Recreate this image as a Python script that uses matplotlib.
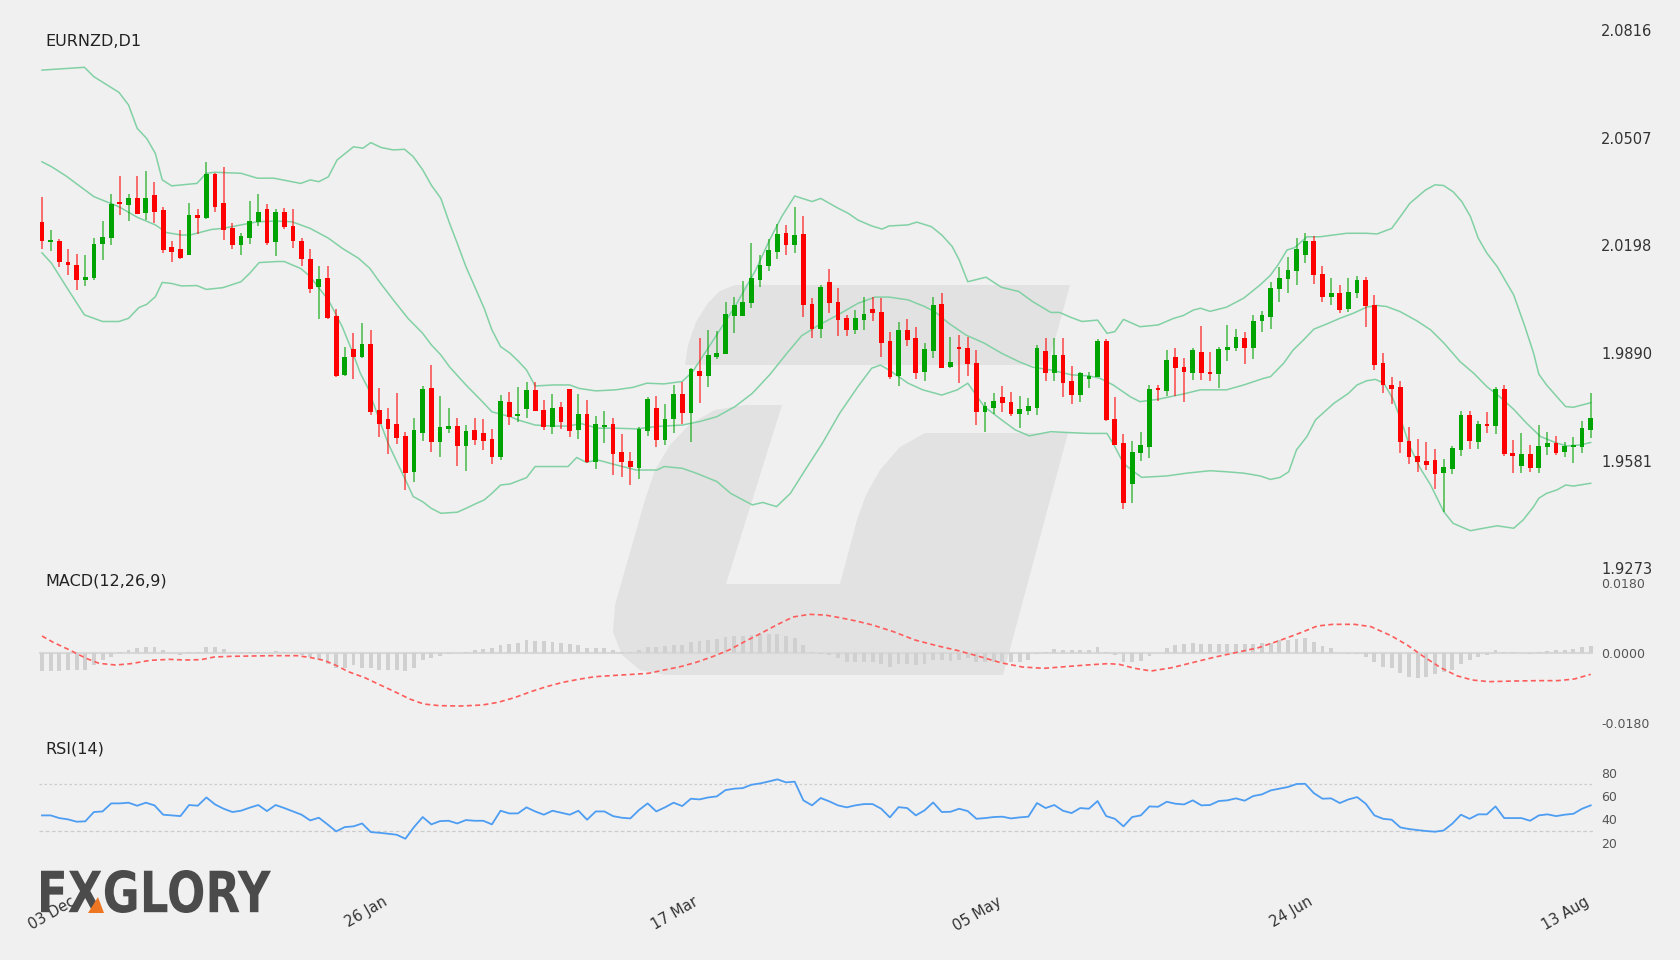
import numpy as np
import matplotlib
matplotlib.use('Agg')
import matplotlib.pyplot as plt
from matplotlib.patches import Polygon, PathPatch
from matplotlib.textpath import TextPath
from matplotlib.font_manager import FontProperties
from matplotlib.transforms import Affine2D, IdentityTransform, ScaledTranslation

#datos OHLC diarios EURNZD
opens = [2.0265,2.0207,2.0211,2.0150,2.0143,2.0099,2.0105,2.0202,2.0220,2.0323,
         2.0314,2.0334,2.0290,2.0343,2.0299,2.0194,2.0187,2.0171,2.0286,2.0276,
         2.0403,2.0320,2.0249,2.0199,2.0220,2.0264,2.0302,2.0207,2.0293,2.0254,
         2.0212,2.0159,2.0079,2.0106,1.9996,1.9827,1.9900,1.9879,1.9916,1.9725,
         1.9700,1.9687,1.9652,1.9549,1.9661,1.9789,1.9634,1.9673,1.9680,1.9623,
         1.9668,1.9661,1.9642,1.9591,1.9750,1.9709,1.9729,1.9783,1.9727,1.9678,
         1.9734,1.9787,1.9669,1.9716,1.9578,1.9678,1.9686,1.9607,1.9581,1.9561,
         1.9667,1.9731,1.9639,1.9699,1.9771,1.9717,1.9837,1.9825,1.9879,1.9887,
         1.9996,1.9997,2.0034,2.0100,2.0139,2.0180,2.0235,2.0200,2.0231,2.0030,
         1.9959,2.0092,2.0036,1.9991,1.9956,1.9984,2.0015,2.0007,1.9924,1.9823,
         1.9955,1.9932,1.9834,1.9894,2.0031,1.9849,1.9907,1.9904,1.9860,1.9721,
         1.9733,1.9762,1.9750,1.9715,1.9724,1.9733,1.9895,1.9833,1.9883,1.9809,
         1.9770,1.9816,1.9820,1.9924,1.9699,1.9632,1.9513,1.9602,1.9621,1.9789,
         1.9782,1.9878,1.9849,1.9833,1.9893,1.9835,1.9829,1.9898,1.9905,1.9932,
         1.9905,1.9982,1.9994,2.0074,2.0102,2.0125,2.0172,2.0211,2.0116,2.0051,
         2.0063,2.0015,2.0061,2.0099,2.0027,1.9860,1.9797,1.9791,1.9636,1.9594,
         1.9581,1.9583,1.9545,1.9558,1.9611,1.9711,1.9634,1.9686,1.9680,1.9786,
         1.9603,1.9566,1.9599,1.9559,1.9619,1.9631,1.9605,1.9621,1.9621,1.9669]
highs = [2.0337,2.0243,2.0217,2.0187,2.0173,2.0170,2.0219,2.0268,2.0346,2.0398,
         2.0346,2.0396,2.0412,2.0380,2.0309,2.0210,2.0243,2.0320,2.0302,2.0437,
         2.0405,2.0423,2.0263,2.0235,2.0327,2.0346,2.0316,2.0302,2.0306,2.0304,
         2.0219,2.0187,2.0139,2.0139,2.0015,1.9908,1.9946,1.9976,1.9956,1.9788,
         1.9732,1.9776,1.9663,1.9702,1.9795,1.9854,1.9765,1.9732,1.9702,1.9682,
         1.9702,1.9700,1.9671,1.9769,1.9778,1.9792,1.9806,1.9806,1.9755,1.9773,
         1.9748,1.9787,1.9773,1.9755,1.9709,1.9723,1.9704,1.9657,1.9606,1.9676,
         1.9762,1.9767,1.9743,1.9797,1.9807,1.9846,1.9932,1.9957,1.9954,2.0035,
         2.0051,2.0097,2.0206,2.0172,2.0217,2.0261,2.0256,2.0308,2.0283,2.0046,
         2.0085,2.0131,2.0076,1.9999,2.0013,2.0051,2.0051,2.0046,1.9950,1.9979,
         1.9986,1.9964,1.9917,2.0049,2.0061,1.9935,1.9941,1.9935,1.9898,1.9750,
         1.9775,1.9794,1.9778,1.9766,1.9760,1.9912,1.9932,1.9932,1.9934,1.9851,
         1.9835,1.9835,1.9929,1.9929,1.9763,1.9656,1.9637,1.9663,1.9798,1.9798,
         1.9898,1.9904,1.9875,1.9903,1.9966,1.9893,1.9907,1.9970,1.9958,1.9950,
         1.9999,2.0010,2.0093,2.0135,2.0166,2.0219,2.0233,2.0226,2.0140,2.0106,
         2.0084,2.0106,2.0110,2.0108,2.0056,1.9890,1.9820,1.9809,1.9677,1.9643,
         1.9634,1.9615,1.9586,1.9623,1.9724,1.9723,1.9695,1.9719,1.9792,1.9797,
         1.9640,1.9661,1.9626,1.9683,1.9662,1.9651,1.9635,1.9649,1.9696,1.9774]
lows = [2.0189,2.0183,2.0135,2.0112,2.0070,2.0083,2.0099,2.0155,2.0199,2.0286,
        2.0268,2.0288,2.0272,2.0263,2.0176,2.0152,2.0160,2.0171,2.0230,2.0275,
        2.0293,2.0215,2.0189,2.0171,2.0201,2.0255,2.0198,2.0168,2.0245,2.0192,
        2.0140,2.0063,1.9987,1.9986,1.9822,1.9825,1.9814,1.9874,1.9713,1.9648,
        1.9600,1.9629,1.9497,1.9519,1.9638,1.9607,1.9591,1.9659,1.9565,1.9552,
        1.9627,1.9611,1.9570,1.9583,1.9682,1.9693,1.9704,1.9722,1.9669,1.9656,
        1.9671,1.9650,1.9644,1.9574,1.9556,1.9632,1.9540,1.9535,1.9511,1.9527,
        1.9653,1.9621,1.9625,1.9659,1.9687,1.9634,1.9747,1.9793,1.9871,1.9887,
        1.9948,1.9997,2.0020,2.0079,2.0126,2.0159,2.0172,2.0177,1.9994,1.9932,
        1.9934,2.0003,1.9937,1.9937,1.9943,1.9955,1.9982,1.9877,1.9814,1.9795,
        1.9911,1.9815,1.9810,1.9874,1.9846,1.9848,1.9803,1.9825,1.9683,1.9662,
        1.9714,1.9721,1.9709,1.9675,1.9712,1.9712,1.9810,1.9810,1.9764,1.9744,
        1.9748,1.9790,1.9820,1.9695,1.9626,1.9441,1.9458,1.9580,1.9589,1.9752,
        1.9767,1.9767,1.9748,1.9813,1.9813,1.9810,1.9790,1.9868,1.9895,1.9858,
        1.9872,1.9951,1.9959,2.0035,2.0061,2.0084,2.0149,2.0088,2.0036,2.0026,
        2.0003,2.0007,2.0048,1.9964,1.9841,1.9776,1.9742,1.9602,1.9571,1.9547,
        1.9554,1.9500,1.9434,1.9543,1.9594,1.9615,1.9613,1.9661,1.9656,1.9595,
        1.9545,1.9546,1.9549,1.9545,1.9597,1.9598,1.9592,1.9575,1.9604,1.9647]
closes = [2.0211,2.0214,2.0151,2.0142,2.0099,2.0109,2.0203,2.0222,2.0317,2.0316,
          2.0334,2.0289,2.0334,2.0295,2.0185,2.0178,2.0161,2.0286,2.0276,2.0403,
          2.0307,2.0243,2.0199,2.0226,2.0269,2.0295,2.0206,2.0293,2.0252,2.0211,
          2.0159,2.0073,2.0102,1.9989,1.9824,1.9879,1.9879,1.9916,1.9719,1.9687,
          1.9673,1.9645,1.9545,1.9668,1.9787,1.9633,1.9676,1.9680,1.9623,1.9666,
          1.9641,1.9638,1.9591,1.9751,1.9706,1.9715,1.9783,1.9724,1.9677,1.9731,
          1.9693,1.9666,1.9716,1.9576,1.9686,1.9683,1.9600,1.9577,1.9564,1.9672,
          1.9759,1.9639,1.9701,1.9771,1.9717,1.9844,1.9825,1.9883,1.9891,2.0002,
          2.0026,2.0037,2.0104,2.0142,2.0184,2.0230,2.0198,2.0228,2.0026,1.9959,
          2.0078,2.0034,1.9983,1.9956,1.9991,2.0001,2.0003,1.9919,1.9822,1.9955,
          1.9926,1.9831,1.9900,2.0028,1.9848,1.9863,1.9900,1.9859,1.9721,1.9739,
          1.9752,1.9747,1.9715,1.9729,1.9737,1.9904,1.9833,1.9883,1.9805,1.9769,
          1.9831,1.9825,1.9924,1.9697,1.9626,1.9459,1.9606,1.9626,1.9786,1.9784,
          1.9870,1.9846,1.9836,1.9899,1.9833,1.9829,1.9902,1.9907,1.9935,1.9905,
          1.9981,1.9999,2.0075,2.0106,2.0129,2.0187,2.0211,2.0114,2.0051,2.0062,
          2.0012,2.0065,2.0099,2.0023,1.9854,1.9798,1.9787,1.9634,1.9591,1.9577,
          1.9567,1.9543,1.9562,1.9618,1.9711,1.9636,1.9686,1.9681,1.9786,1.9599,
          1.9595,1.9599,1.9559,1.9622,1.9631,1.9603,1.9623,1.9626,1.9674,1.9702]

#bandas de Bollinger (posicion en barras, valor)
bb_up_x = [0,4.9,6.0,8.9,10.0,11.0,12.1,13.1,13.9,15.0,17.9,19.0,20.0,23.0,24.9,26.8,29.9,31.0,32.0,33.1,
           34.1,36.0,37.1,38.0,39.2,40.6,41.9,42.9,44.0,45.0,46.1,47.1,48.0,49.0,50.1,51.1,52.0,53.0,54.1,55.1,
           56.0,57.0,59.1,61.0,62.1,64.0,66.3,68.3,69.9,71.9,74.0,75.2,77.6,80.1,82.5,84.1,85.5,87.0,89.0,90.0,
           92.0,93.2,94.3,95.9,97.1,97.9,100.1,101.1,102.8,104.0,105.2,106.0,107.0,109.1,110.9,112.9,114.5,116.6,117.6,119.0,
           120.2,122.0,123.1,124.0,125.0,126.9,129.0,130.8,131.9,133.1,133.9,135.0,136.9,138.9,140.8,142.0,142.9,143.9,144.8,146.2,
           147.7,150.8,153.1,154.3,156.0,157.0,158.1,159.9,161.0,162.0,163.1,164.1,165.1,166.0,167.0,168.2,170.1,171.4,172.4,173.0,
           173.9,175.1,176.1,177.0,179.0]
bb_up = [2.0701,2.0709,2.0682,2.0637,2.0601,2.0534,2.0505,2.0462,2.0386,2.0369,2.0376,2.0405,2.0408,2.0405,2.0391,2.0391,2.0376,2.0386,2.0381,2.0395,
         2.0443,2.0481,2.0477,2.0493,2.0479,2.0472,2.0474,2.0453,2.0415,2.0371,2.0333,2.0262,2.0204,2.0137,2.0075,2.0018,1.9956,1.9908,1.9889,1.9865,
         1.9841,1.9795,1.9798,1.9798,1.9788,1.9781,1.9784,1.9791,1.9803,1.9801,1.9808,1.9836,1.9927,2.0023,2.0128,2.0214,2.0281,2.0340,2.0324,2.0333,
         2.0305,2.0290,2.0271,2.0254,2.0245,2.0254,2.0257,2.0265,2.0252,2.0228,2.0195,2.0157,2.0094,2.0107,2.0078,2.0066,2.0037,2.0006,2.0006,1.9991,
         1.9980,1.9984,1.9946,1.9951,1.9986,1.9965,1.9970,1.9989,1.9997,2.0013,2.0018,2.0009,2.0021,2.0047,2.0085,2.0113,2.0144,2.0185,2.0192,2.0223,
         2.0223,2.0233,2.0233,2.0231,2.0247,2.0281,2.0319,2.0357,2.0372,2.0370,2.0352,2.0324,2.0281,2.0219,2.0176,2.0137,2.0056,1.9965,1.9889,1.9829,
         1.9798,1.9764,1.9736,1.9734,1.9747]
bb_mid_x = [0,1.1,2.8,6.0,7.9,8.9,11.0,13.1,14.4,16.1,17.1,19.6,20.9,23.0,24.9,27.0,28.9,31.0,33.1,34.7,
            36.6,37.9,39.0,40.6,42.3,44.0,45.0,46.1,47.1,49.0,50.9,52.0,54.1,55.1,57.0,59.1,61.0,62.2,64.2,66.3,
            68.7,71.1,74.0,76.0,78.0,80.1,82.1,84.1,86.1,87.8,89.8,92.0,94.3,96.3,97.9,100.1,102.0,103.2,104.8,106.8,
            108.9,110.9,112.9,114.5,116.6,119.0,121.0,122.3,123.8,125.8,126.9,129.0,131.9,133.9,136.9,138.9,141.2,142.0,143.5,144.6,
            145.8,147.0,148.5,150.0,151.6,153.1,154.3,155.4,157.0,158.9,160.5,162.0,163.9,165.5,167.0,168.5,170.1,171.6,173.2,175.1,
            176.3,177.8,179.0]
bb_mid = [2.0438,2.0424,2.0397,2.0338,2.0319,2.0309,2.0279,2.0257,2.0235,2.0228,2.0228,2.0244,2.0247,2.0257,2.0266,2.0268,2.0266,2.0247,2.0219,2.0190,
          2.0161,2.0132,2.0094,2.0042,1.9989,1.9946,1.9913,1.9884,1.9850,1.9798,1.9750,1.9721,1.9707,1.9697,1.9683,1.9680,1.9680,1.9688,1.9674,1.9674,
          1.9672,1.9679,1.9683,1.9693,1.9707,1.9736,1.9774,1.9827,1.9889,1.9939,1.9970,1.9999,2.0032,2.0050,2.0050,2.0042,2.0023,2.0008,1.9975,1.9941,
          1.9918,1.9889,1.9865,1.9849,1.9841,1.9827,1.9824,1.9817,1.9798,1.9764,1.9750,1.9757,1.9772,1.9784,1.9784,1.9798,1.9817,1.9822,1.9860,1.9898,
          1.9927,1.9958,1.9973,1.9989,2.0004,2.0021,2.0026,2.0023,2.0008,1.9982,1.9956,1.9919,1.9865,1.9831,1.9793,1.9764,1.9728,1.9688,1.9650,1.9631,
          1.9623,1.9626,1.9633]
bb_low_x = [0,1.1,2.8,4.9,7.0,8.9,10.0,11.2,12.1,13.1,13.9,15.0,16.1,17.9,19.0,20.9,23.0,24.0,25.1,27.2,
            28.0,29.9,31.0,32.2,33.1,34.7,35.8,36.8,37.7,39.0,40.0,41.1,42.1,42.9,44.0,45.0,46.1,48.0,49.0,50.1,
            51.1,52.0,53.0,54.1,56.0,57.0,60.8,61.8,62.9,64.2,66.3,68.7,71.1,71.9,74.0,75.6,78.0,79.6,82.1,83.3,
            84.9,86.5,88.2,90.2,92.2,94.3,95.9,96.9,97.9,100.1,101.8,104.0,105.8,107.0,108.9,110.9,112.5,114.1,116.6,119.0,
            121.0,123.1,124.0,125.0,126.2,127.1,130.0,132.3,135.0,136.9,138.9,140.8,142.0,143.1,144.1,145.0,146.2,147.2,149.3,151.0,
            152.0,153.1,154.1,155.1,156.2,157.2,158.1,159.3,160.5,162.0,163.1,165.1,166.6,168.2,170.1,171.2,172.4,173.0,173.9,175.1,
            176.1,177.0,179.0]
bb_low = [2.0177,2.0147,2.0080,1.9999,1.9980,1.9980,1.9989,2.0020,2.0029,2.0051,2.0092,2.0089,2.0082,2.0083,2.0072,2.0077,2.0094,2.0118,2.0149,2.0152,
          2.0152,2.0132,2.0109,2.0070,2.0042,1.9965,1.9898,1.9831,1.9788,1.9697,1.9631,1.9573,1.9521,1.9478,1.9463,1.9444,1.9430,1.9433,1.9444,1.9457,
          1.9468,1.9487,1.9511,1.9514,1.9532,1.9564,1.9564,1.9590,1.9576,1.9583,1.9569,1.9554,1.9554,1.9564,1.9559,1.9545,1.9521,1.9487,1.9454,1.9461,
          1.9449,1.9487,1.9554,1.9631,1.9717,1.9793,1.9846,1.9855,1.9841,1.9803,1.9784,1.9769,1.9784,1.9803,1.9736,1.9698,1.9669,1.9652,1.9664,1.9661,
          1.9659,1.9659,1.9621,1.9573,1.9549,1.9533,1.9537,1.9545,1.9552,1.9549,1.9545,1.9537,1.9527,1.9533,1.9549,1.9612,1.9650,1.9698,1.9745,1.9774,
          1.9798,1.9810,1.9814,1.9803,1.9755,1.9688,1.9621,1.9559,1.9511,1.9435,1.9401,1.9380,1.9387,1.9394,1.9387,1.9411,1.9449,1.9473,1.9487,1.9497,
          1.9511,1.9508,1.9516]

#MACD: histograma por barra y linea de senal
macd_hist = [-0.0046,-0.0046,-0.0045,-0.0044,-0.0044,-0.0043,-0.0031,-0.0018,-0.0009,0.0003,
             0.0008,0.0012,0.0015,0.0015,0.0007,0.0000,-0.0004,0.0003,0.0003,0.0015,
             0.0015,0.0010,0.0003,0.0002,0.0003,0.0003,0.0000,0.0004,0.0003,0.0000,
             -0.0005,-0.0010,-0.0018,-0.0029,-0.0039,-0.0039,-0.0031,-0.0038,-0.0039,-0.0043,
             -0.0043,-0.0043,-0.0046,-0.0038,-0.0018,-0.0012,-0.0008,-0.0003,0.0000,0.0003,
             0.0008,0.0010,0.0012,0.0021,0.0022,0.0027,0.0033,0.0032,0.0031,0.0029,
             0.0025,0.0022,0.0021,0.0014,0.0014,0.0014,0.0008,0.0002,0.0003,0.0007,
             0.0015,0.0015,0.0018,0.0021,0.0021,0.0029,0.0031,0.0033,0.0036,0.0042,
             0.0045,0.0045,0.0046,0.0048,0.0048,0.0048,0.0045,0.0039,0.0021,0.0003,
             -0.0002,-0.0005,-0.0014,-0.0022,-0.0022,-0.0022,-0.0022,-0.0027,-0.0035,-0.0029,
             -0.0027,-0.0031,-0.0029,-0.0018,-0.0018,-0.0021,-0.0018,-0.0014,-0.0024,-0.0024,
             -0.0024,-0.0024,-0.0024,-0.0022,-0.0018,-0.0003,0.0003,0.0010,0.0008,0.0008,
             0.0008,0.0009,0.0015,0.0003,-0.0005,-0.0024,-0.0024,-0.0021,-0.0007,0.0000,
             0.0014,0.0021,0.0023,0.0027,0.0024,0.0024,0.0023,0.0023,0.0024,0.0024,
             0.0024,0.0025,0.0027,0.0033,0.0033,0.0036,0.0038,0.0029,0.0019,0.0012,
             0.0000,-0.0002,-0.0002,-0.0009,-0.0024,-0.0035,-0.0039,-0.0052,-0.0061,-0.0063,
             -0.0061,-0.0055,-0.0050,-0.0044,-0.0027,-0.0018,-0.0009,-0.0005,0.0009,0.0003,
             0.0002,0.0000,-0.0002,0.0002,0.0006,0.0007,0.0008,0.0010,0.0015,0.0019]
signal_x = [0,1.3,3.2,5.1,6.6,8.5,10.3,12.5,14.7,16.5,18.4,19.9,21.8,24.3,26.7,29.5,31.1,32.6,33.9,35.4,
            37.3,39.1,41.0,42.5,44.1,45.9,48.4,50.9,52.7,54.6,56.5,58.3,60.2,62.0,63.9,65.7,68.2,70.1,71.9,73.8,
            75.6,77.5,79.4,81.2,83.1,84.9,86.8,88.7,90.5,92.2,94.1,96.0,98.4,100.9,103.4,105.9,108.4,110.8,113.3,115.8,
            118.3,120.7,123.2,124.5,126.3,128.2,130.6,133.1,135.6,138.1,140.6,143.0,145.5,147.4,149.2,151.7,153.6,156.0,157.9,159.7,
            161.6,163.5,165.3,167.2,170.3,172.8,175.2,177.1,179.0]
signal = [0.00437,0.00274,0.00077,-0.00137,-0.00266,-0.00309,-0.00274,-0.00189,-0.00163,-0.00180,-0.00171,-0.00103,-0.00086,-0.00077,-0.00069,-0.00069,-0.00120,-0.00189,-0.00309,-0.00480,
          -0.00634,-0.00823,-0.01020,-0.01183,-0.01311,-0.01354,-0.01363,-0.01337,-0.01269,-0.01149,-0.00994,-0.00866,-0.00754,-0.00677,-0.00609,-0.00583,-0.00549,-0.00523,-0.00437,-0.00351,
          -0.00240,-0.00094,0.00077,0.00291,0.00506,0.00720,0.00926,0.00994,0.00977,0.00909,0.00823,0.00720,0.00549,0.00334,0.00189,0.00060,-0.00094,-0.00249,-0.00360,-0.00394,
          -0.00351,-0.00309,-0.00274,-0.00291,-0.00394,-0.00463,-0.00377,-0.00240,-0.00103,0.00017,0.00137,0.00317,0.00523,0.00694,0.00737,0.00737,0.00677,0.00437,0.00189,-0.00094,
          -0.00369,-0.00583,-0.00694,-0.00737,-0.00720,-0.00711,-0.00711,-0.00669,-0.00549]

#RSI(14) por barra
rsi = [43.4,43.4,41.1,40.0,38.0,38.3,46.3,46.8,53.7,53.7,54.3,51.7,54.3,52.0,44.0,43.4,42.8,52.3,51.7,58.8,
       52.8,49.1,46.3,47.4,50.0,52.3,47.1,52.3,49.7,46.8,44.0,39.1,41.4,35.7,29.7,33.4,34.0,36.5,29.1,28.5,
       27.7,26.8,23.4,33.4,42.0,35.7,38.5,38.8,36.5,39.4,38.8,38.8,35.7,47.4,45.1,45.1,50.3,46.8,44.0,47.4,
       45.7,44.0,47.4,39.7,46.8,46.8,42.8,41.4,40.8,48.0,53.7,46.8,50.3,54.3,51.4,57.7,57.1,58.8,59.7,65.1,
       66.3,66.8,69.7,70.8,72.5,74.3,71.7,72.3,56.3,52.0,58.3,55.4,52.0,50.3,52.0,53.1,53.1,49.1,41.7,50.5,
       49.7,43.4,47.7,54.5,46.3,46.5,49.1,47.1,40.5,41.1,42.0,42.3,40.8,41.7,42.3,54.0,49.7,52.3,47.4,45.4,
       49.7,49.1,55.7,42.8,40.5,34.0,42.0,43.4,51.1,50.8,55.1,53.4,52.8,56.3,52.0,52.3,55.7,56.3,58.0,56.0,
       60.0,61.4,64.8,66.3,67.7,70.3,70.5,62.5,57.7,58.0,54.0,57.1,59.1,53.4,43.4,40.5,39.7,33.1,31.7,30.8,
       30.0,29.4,30.5,36.3,44.0,40.5,44.3,44.3,51.1,41.1,41.1,41.1,38.8,43.4,44.3,42.8,44.0,44.8,49.1,52.0]

price_ticks = [2.0816, 2.0507, 2.0198, 1.9890, 1.9581, 1.9273]
macd_ticks = [0.018, 0.0, -0.018]
rsi_ticks = [80, 60, 40, 20]
date_idx = [4, 40, 76, 111, 147, 179]
date_labels = ['03 Dec', '26 Jan', '17 Mar', '05 May', '24 Jun', '13 Aug']

#%% figura
BG = '#f0f0f0'
W, H = 1680, 960
fig = plt.figure(figsize=(W/100, H/100), dpi=100, facecolor=BG)

#marca de agua (en pixeles)
def px(pts):
    return [(x, H - y) for x, y in pts]
wm = '#e2e2e2'
top_bar = px([(735,285),(1070,285),(1048,365),(685,365),(688,345),(696,322),(708,303),(720,291)])
low_piece = px([(745,405),(782,405),(726,584),(840,584),(857,520),(866,495),(880,470),(900,447),(925,433),
                (1068,433),(1003,675),(665,675),(640,670),(622,655),(613,632),(615,605),(645,500),
                (655,470),(670,445),(690,424),(715,410)])
for pts in (top_bar, low_piece):
    fig.add_artist(Polygon(pts, closed=True, facecolor=wm, edgecolor='none',
                           transform=IdentityTransform(), zorder=-5))

x_left, x_right = 39.4, 1593.3
def axes_px(top, bottom):
    return fig.add_axes([x_left/W, 1 - bottom/H, (x_right - x_left)/W, (bottom - top)/H])

ax = axes_px(30, 568)
ax_m = axes_px(583, 723)
ax_r = axes_px(772.7, 842.7)

x = np.arange(len(closes))
o = np.array(opens); c = np.array(closes); h = np.array(highs); l = np.array(lows)
up = c >= o
cols = np.where(up, '#00a400', '#ff0000')

#velas
ax.vlines(x, l, h, colors=cols, lw=1.3, alpha=0.6, zorder=3)
body = np.maximum(np.abs(c - o), 0.00035)
ax.bar(x, body, bottom=np.minimum(o, c), width=0.55, color=cols, zorder=4)

#bollinger
for bx, by in ((bb_up_x, bb_up), (bb_mid_x, bb_mid), (bb_low_x, bb_low)):
    ax.plot(bx, by, color='#82d1a4', lw=1.1, zorder=2)

ax.set_ylim(1.9273, 2.0816)
ax.set_yticks(price_ticks, ['%.4f' % v for v in price_ticks])

#macd
ax_m.axhline(0, color='#d8d8d8', lw=1.5, zorder=1)
ax_m.bar(x, macd_hist, width=0.45, color='#d0d0d0', zorder=2)
ax_m.plot(signal_x, signal, color='#ff5c5c', lw=1.2, dashes=(3, 2), zorder=3)
ax_m.set_ylim(-0.018, 0.018)
ax_m.set_yticks(macd_ticks, ['0.0180', '0.0000', '-0.0180'])

#rsi
ax_r.axhline(70, color='#cccccc', lw=0.9, ls=(0, (2, 2)))
ax_r.axhline(30, color='#cccccc', lw=0.9, ls=(0, (3, 2)))
ax_r.plot(x, rsi, color='#4d9df2', lw=1.3, clip_on=False)
ax_r.set_ylim(20, 80)
ax_r.set_yticks(rsi_ticks, [str(v) for v in rsi_ticks])

for a, fs, tc in ((ax, 10.5, '#333333'), (ax_m, 9, '#555555'), (ax_r, 9, '#555555')):
    a.set_xlim(-0.3, len(closes) - 0.7)
    a.set_facecolor('none')
    for s in a.spines.values():
        s.set_visible(False)
    a.yaxis.tick_right()
    a.tick_params(axis='y', length=0, pad=5.5, labelsize=fs, labelcolor=tc)
    a.tick_params(axis='x', length=0)
    if a is not ax_r:
        a.set_xticks([])

ax_r.set_xticks(date_idx, date_labels, rotation=30, ha='right', rotation_mode='anchor')
ax_r.tick_params(axis='x', pad=37, labelsize=10.5, labelcolor='#333333')
#corro un poco las fechas a la izquierda
shift = ScaledTranslation(-6/100, 0, fig.dpi_scale_trans)
for lab in ax_r.get_xticklabels():
    lab.set_transform(lab.get_transform() + shift)

#titulos de paneles
fig.text(45/W, 1 - 42/H, 'EURNZD,D1', fontsize=11.5, color='#222222', va='center')
fig.text(45/W, 1 - 581/H, 'MACD(12,26,9)', fontsize=11.5, color='#222222', va='center')
fig.text(45/W, 1 - 749/H, 'RSI(14)', fontsize=11.5, color='#222222', va='center')

#logo
tp = TextPath((0, 0), 'FXGLORY', size=100, prop=FontProperties(family='DejaVu Sans', weight='bold'))
ext = tp.get_extents()
tr = Affine2D().translate(-ext.x0, -ext.y0).scale((271 - 41)/ext.width, 43/ext.height).translate(41, H - 913)
fig.add_artist(PathPatch(tr.transform_path(tp), facecolor='#4b4b4b', edgecolor='none',
                         transform=IdentityTransform(), zorder=5))
fig.add_artist(Polygon(px([(88, 913), (98, 897), (104, 913)]), closed=True, facecolor='#ee7622',
                       edgecolor='none', transform=IdentityTransform(), zorder=6))

fig.savefig('out.png', dpi=100, facecolor=BG)
